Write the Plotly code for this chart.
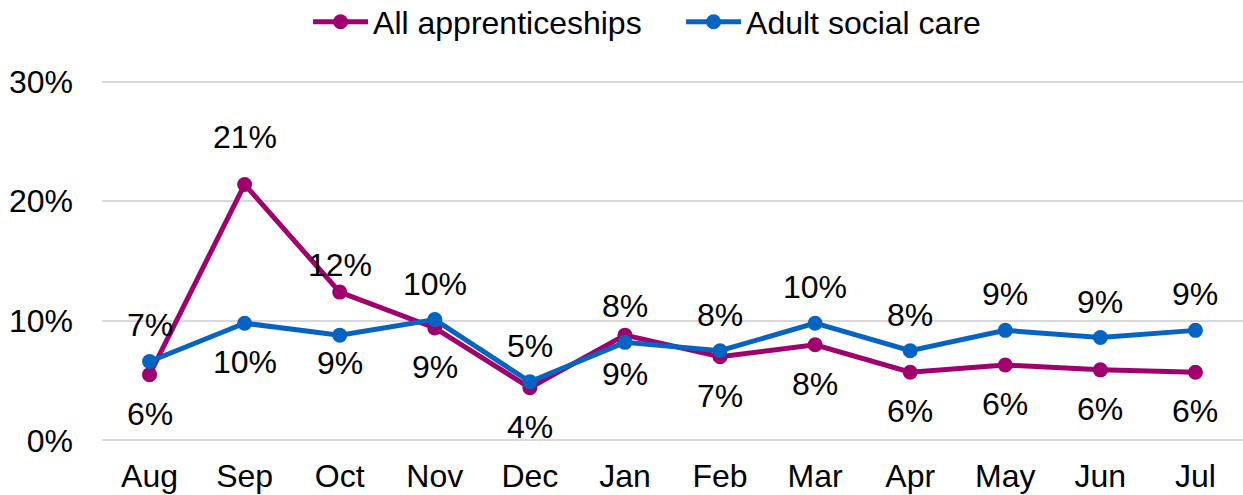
import plotly.graph_objects as go

months = ["Aug", "Sep", "Oct", "Nov", "Dec", "Jan", "Feb", "Mar", "Apr", "May", "Jun", "Jul"]
all_apprenticeships = [0.055, 0.214, 0.124, 0.094, 0.044, 0.088, 0.070, 0.080, 0.057, 0.063, 0.059, 0.057]
adult_social_care = [0.066, 0.098, 0.088, 0.101, 0.049, 0.082, 0.075, 0.098, 0.075, 0.092, 0.086, 0.092]
y_ticks = [0, 0.1, 0.2, 0.3]

MAGENTA = "#A0006E"
BLUE = "#0563C1"
FONT = "Liberation Sans, Arial, sans-serif"
SIZE = 32

# which side each label sits on: +1 above the point, -1 below
all_side = [-1, 1, 1, -1, -1, -1, -1, -1, -1, -1, -1, -1]
asc_side = [1, -1, -1, 1, 1, 1, 1, 1, 1, 1, 1, 1]


def pct(v):
    return f"{int(v * 100 + 0.5 + 1e-9)}%"


fig = go.Figure()
fig.add_trace(go.Scatter(
    x=months, y=all_apprenticeships, name="All apprenticeships",
    mode="lines+markers", line=dict(color=MAGENTA, width=5),
    marker=dict(color=MAGENTA, size=15),
))
fig.add_trace(go.Scatter(
    x=months, y=adult_social_care, name="Adult social care",
    mode="lines+markers", line=dict(color=BLUE, width=5),
    marker=dict(color=BLUE, size=15),
))

annotations = []
for values, sides in ((all_apprenticeships, all_side), (adult_social_care, asc_side)):
    for m, v, s in zip(months, values, sides):
        shift = 36 if s > 0 else -39
        if m == "Sep" and s > 0:
            shift = 47
        if m == "Oct":
            shift = 27 if s > 0 else -28
        annotations.append(dict(
            x=m, y=v, text=pct(v), showarrow=False,
            yshift=shift, font=dict(family=FONT, size=SIZE, color="#000000"),
        ))

fig.update_layout(
    width=1243, height=495,
    margin=dict(l=102, r=0, t=78, b=51, autoexpand=False),
    paper_bgcolor="white", plot_bgcolor="white",
    font=dict(family=FONT, size=SIZE, color="#000000"),
    showlegend=True,
    legend=dict(orientation="h", x=0.5075, xanchor="center", y=1.153, yanchor="middle",
                font=dict(size=SIZE), itemwidth=55, entrywidth=303,
                bgcolor="rgba(0,0,0,0)"),
    annotations=annotations,
    xaxis=dict(type="category", range=[-0.5, 11.5], showgrid=False, showline=False,
               zeroline=False, ticks="", ticklabelstandoff=10, automargin=False,
               fixedrange=True),
    yaxis=dict(range=[-0.003, 0.303], tickvals=y_ticks, tickformat=".0%", showgrid=True,
               gridcolor="#D9D9D9", gridwidth=2, zeroline=False, showline=False,
               ticks="", ticklabelstandoff=28, automargin=False, fixedrange=True),
)

fig.write_html("out.html")
